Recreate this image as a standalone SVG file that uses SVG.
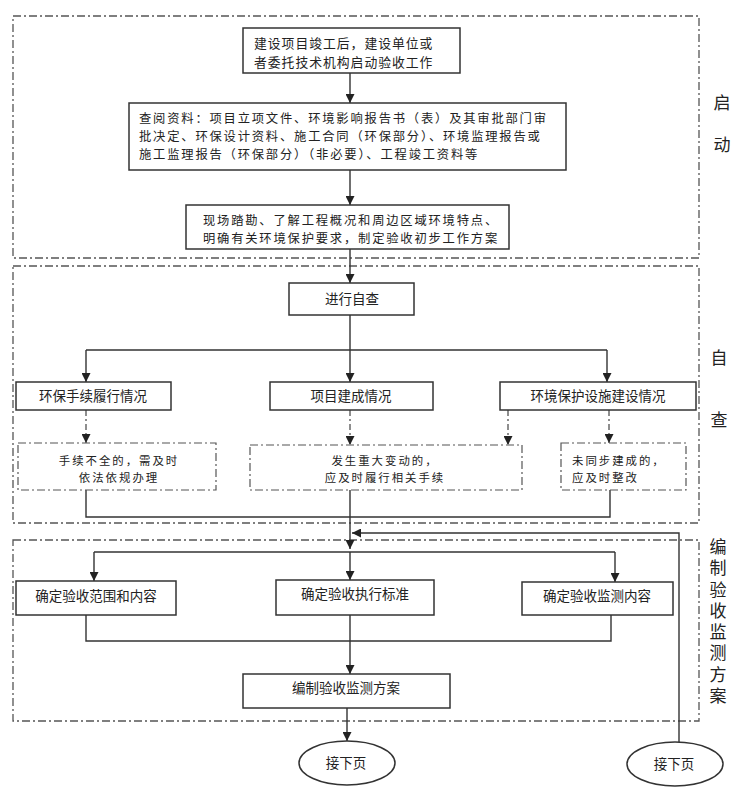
<svg xmlns="http://www.w3.org/2000/svg" width="744" height="800" viewBox="0 0 744 800">
<style>
text{font-family:"Noto Sans CJK SC","Noto Sans",sans-serif;font-size:13.5px;fill:#222}
.c{text-anchor:middle}
.m{font-size:12.3px;letter-spacing:1.8px}
.s{font-size:11.4px;letter-spacing:2px}
.lab{font-size:17px}
.vlab{font-size:17px;writing-mode:vertical-rl;letter-spacing:4.3px}
.box{fill:#fff;stroke:#333;stroke-width:1.5}
.dbox{fill:#fff;stroke:#555;stroke-width:1.2;stroke-dasharray:8 3 2 3}
.frame{fill:none;stroke:#555;stroke-width:1.3;stroke-dasharray:8 3 2 3}
.ln{fill:none;stroke:#333;stroke-width:1.4}
.dl{fill:none;stroke:#444;stroke-width:1.2;stroke-dasharray:6 3 2 3}
</style>
<defs>
<marker id="ah" markerUnits="userSpaceOnUse" markerWidth="9" markerHeight="9" viewBox="0 0 8 8" refX="8" refY="4" orient="auto">
<path d="M0,0 L8,4 L0,8 z" fill="#222"/>
</marker>
</defs>
<rect width="744" height="800" fill="#fff"/>
<g id="frames">
<rect class="frame" x="13" y="16" width="686" height="242"/>
<rect class="frame" x="13" y="266" width="686" height="257"/>
<rect class="frame" x="13" y="540" width="686" height="181"/>
</g>
<g id="labels">
<text class="lab c" x="722" y="109">启</text>
<text class="lab c" x="722" y="151">动</text>
<text class="lab c" x="719" y="364">自</text>
<text class="lab c" x="719" y="426">查</text>
<text class="vlab" x="718" y="538">编制验收监测方案</text>
</g>
<g id="connectors">
<path class="ln" d="M350,73 V103" marker-end="url(#ah)"/>
<path class="ln" d="M350,170 V205" marker-end="url(#ah)"/>
<path class="ln" d="M350,249 V283" marker-end="url(#ah)"/>
<path class="ln" d="M350,315 V350 M86,350 H607"/>
<path class="ln" d="M86,350 V382" marker-end="url(#ah)"/>
<path class="ln" d="M350,350 V382" marker-end="url(#ah)"/>
<path class="ln" d="M607,350 V382" marker-end="url(#ah)"/>
<path class="dl" d="M86,410 V443" marker-end="url(#ah)"/>
<path class="dl" d="M350,410 V445" marker-end="url(#ah)"/>
<path class="dl" d="M508,410 V445" marker-end="url(#ah)"/>
<path class="dl" d="M609,410 V443" marker-end="url(#ah)"/>
<path class="ln" d="M86,490 V517 H610 V490"/>
<path class="ln" d="M350,490 V549" marker-end="url(#ah)"/>
<path class="ln" d="M679,742 V533 H352" marker-end="url(#ah)"/>
<path class="ln" d="M94,552 H615"/>
<path class="ln" d="M94,552 V581" marker-end="url(#ah)"/>
<path class="ln" d="M350,552 V580" marker-end="url(#ah)"/>
<path class="ln" d="M615,552 V582" marker-end="url(#ah)"/>
<path class="ln" d="M86,615 V641 H611 V615"/>
<path class="ln" d="M350,615 V674" marker-end="url(#ah)"/>
<path class="ln" d="M347,708 V741" marker-end="url(#ah)"/>
</g>
<g id="n1"><rect class="box" x="243" y="28" width="217" height="45"/>
<text x="254" y="48" style="font-size:12.8px;letter-spacing:1px">建设项目竣工后，建设单位或</text>
<text x="254" y="67" style="font-size:12.8px;letter-spacing:1px">者委托技术机构启动验收工作</text></g>
<g id="n2"><rect class="box" x="129" y="103" width="437" height="67"/>
<text class="m" x="139" y="123">查阅资料：项目立项文件、环境影响报告书（表）及其审批部门审</text>
<text class="m" x="139" y="141">批决定、环保设计资料、施工合同（环保部分）、环境监理报告或</text>
<text class="m" x="139" y="159">施工监理报告（环保部分）（非必要）、工程竣工资料等</text></g>
<g id="n3"><rect class="box" x="186" y="205" width="323" height="44"/>
<text class="m c" x="351" y="225">现场踏勘、了解工程概况和周边区域环境特点、</text>
<text class="m c" x="351" y="243">明确有关环境保护要求，制定验收初步工作方案</text></g>
<g id="n4"><rect class="box" x="289" y="283" width="125" height="32"/>
<text class="c" x="352" y="304">进行自查</text></g>
<g id="n5"><rect class="box" x="16" y="382" width="155" height="28"/>
<text class="c" x="93" y="401">环保手续履行情况</text></g>
<g id="n6"><rect class="box" x="270" y="382" width="163" height="28"/>
<text class="c" x="351" y="401">项目建成情况</text></g>
<g id="n7"><rect class="box" x="500" y="382" width="196" height="28"/>
<text class="c" x="598" y="401">环境保护设施建设情况</text></g>
<g id="n8"><rect class="dbox" x="18" y="443" width="198" height="47"/>
<text class="s c" x="119" y="465">手续不全的，需及时</text>
<text class="s c" x="119" y="482">依法依规办理</text></g>
<g id="n9"><rect class="dbox" x="250" y="445" width="272" height="45"/>
<text class="s c" x="385" y="465">发生重大变动的，</text>
<text class="s c" x="385" y="482">应及时履行相关手续</text></g>
<g id="n10"><rect class="dbox" x="561" y="443" width="125" height="47"/>
<text class="s" x="572" y="465">未同步建成的，</text>
<text class="s" x="572" y="482">应及时整改</text></g>
<g id="n11"><rect class="box" x="16" y="581" width="160" height="34"/>
<text class="c" x="96" y="601">确定验收范围和内容</text></g>
<g id="n12"><rect class="box" x="276" y="580" width="158" height="35"/>
<text class="c" x="355" y="599">确定验收执行标准</text></g>
<g id="n13"><rect class="box" x="522" y="582" width="151" height="33"/>
<text class="c" x="597" y="601">确定验收监测内容</text></g>
<g id="n14"><rect class="box" x="243" y="674" width="207" height="34"/>
<text class="c" x="346" y="693">编制验收监测方案</text></g>
<g id="n15"><ellipse class="box" cx="347" cy="763" rx="48" ry="22"/>
<text class="c" x="346" y="768">接下页</text></g>
<g id="n16"><ellipse class="box" cx="675" cy="764" rx="48" ry="22"/>
<text class="c" x="674" y="769">接下页</text></g>
</svg>
